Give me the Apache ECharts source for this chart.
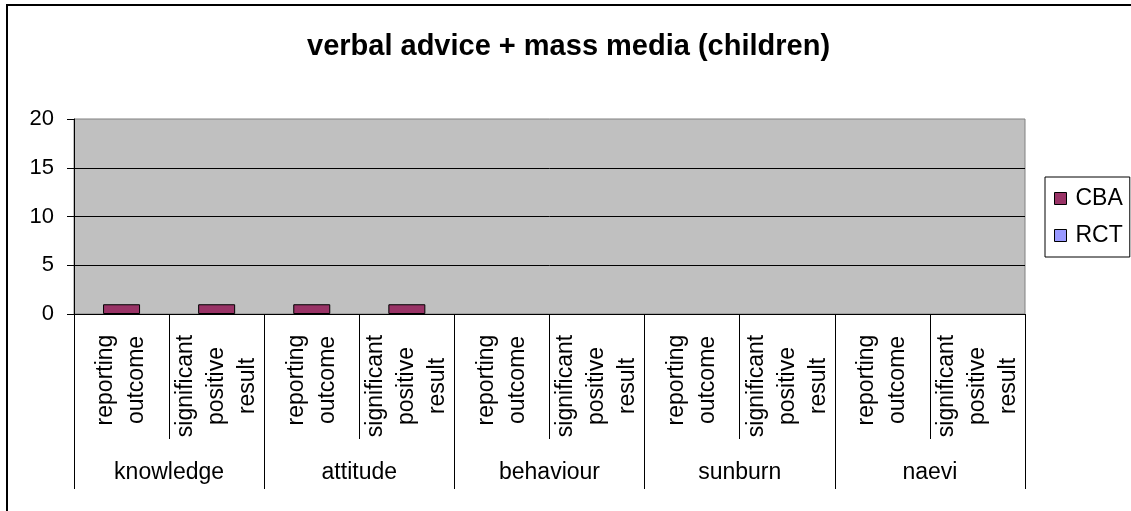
<!DOCTYPE html>
<html>
<head>
<meta charset="utf-8">
<script src="https://cdn.jsdelivr.net/npm/echarts@6/dist/echarts.min.js"></script>
<style>
  html, body { margin: 0; padding: 0; background: #fff; }
  #chart { width: 1131px; height: 511px; }
</style>
</head>
<body>
<div id="chart"></div>
<script>
// Chart data
const titleText = 'verbal advice + mass media (children)';
const groups = ['knowledge', 'attitude', 'behaviour', 'sunburn', 'naevi'];
const subLabels = [
  'reporting\noutcome', 'significant\npositive\nresult',
  'reporting\noutcome', 'significant\npositive\nresult',
  'reporting\noutcome', 'significant\npositive\nresult',
  'reporting\noutcome', 'significant\npositive\nresult',
  'reporting\noutcome', 'significant\npositive\nresult'
];
const seriesNames = ['CBA', 'RCT'];
const cbaValues = [1, 1, 1, 1, 0, 0, 0, 0, 0, 0];
const rctValues = [0, 0, 0, 0, 0, 0, 0, 0, 0, 0];
const yMin = 0, yMax = 20, yStep = 5;

const FONT = '"Liberation Sans", Arial, sans-serif';
const chart = echarts.init(document.getElementById('chart'), null, { renderer: 'canvas' });

const labelBase = {
  fontFamily: FONT, fontSize: 23, color: '#000', lineHeight: 31,
  rotate: 90, align: 'center'
};

// zero-height bars get no outline so they leave no mark on the axis
const barData = (values) => values.map((v) =>
  v === 0 ? { value: v, itemStyle: { borderWidth: 0 } } : v);

chart.setOption({
  backgroundColor: '#fff',
  animation: false,
  title: {
    text: titleText,
    left: 307, top: 32, padding: 0,
    textStyle: { fontFamily: FONT, fontSize: 29, fontWeight: 'bold', color: '#000' }
  },
  graphic: [{
    type: 'rect', silent: true,
    shape: { x: 7, y: 5, width: 1200, height: 600 },
    style: { fill: null, stroke: '#000', lineWidth: 2 }
  }],
  legend: {
    orient: 'vertical',
    left: 1045, top: 177,
    padding: [10, 7, 10, 9],
    itemGap: 14,
    itemWidth: 12, itemHeight: 12,
    icon: 'rect',
    borderColor: '#000', borderWidth: 1,
    backgroundColor: '#fff',
    itemStyle: { borderColor: '#000', borderWidth: 1 },
    textStyle: { fontFamily: FONT, fontSize: 23, color: '#000', padding: [0, 0, 0, 4] },
    data: seriesNames
  },
  grid: {
    left: 74, right: 106, top: 119, bottom: 197,
    show: true, backgroundColor: '#C0C0C0', borderColor: '#808080', borderWidth: 1
  },
  xAxis: [
    {
      type: 'category', position: 'bottom', data: subLabels,
      axisLine: { show: true, lineStyle: { color: '#000', width: 1 } },
      axisTick: { show: true, interval: 0, length: 125, lineStyle: { color: '#000', width: 1 } },
      axisLabel: Object.assign({}, labelBase, {
        interval: (i) => i % 2 === 0, margin: 66
      })
    },
    {
      type: 'category', position: 'bottom', data: subLabels,
      axisLine: { show: false }, axisTick: { show: false },
      axisLabel: Object.assign({}, labelBase, {
        interval: (i) => i % 2 === 1, margin: 72
      })
    },
    {
      type: 'category', position: 'bottom', data: groups,
      axisLine: { show: false },
      axisTick: { show: true, interval: 0, length: 175, lineStyle: { color: '#000', width: 1 } },
      axisLabel: { interval: 0, margin: 147, fontFamily: FONT, fontSize: 23, color: '#000' }
    }
  ],
  yAxis: {
    type: 'value', min: yMin, max: yMax, interval: yStep,
    axisLine: { show: true, lineStyle: { color: '#000' } },
    axisTick: { show: true, length: 7, lineStyle: { color: '#000' } },
    axisLabel: { margin: 20, fontFamily: FONT, fontSize: 22, color: '#000' },
    splitLine: { show: true, showMaxLine: false, lineStyle: { color: '#000', width: 1 } }
  },
  series: [
    {
      name: seriesNames[0], type: 'bar', xAxisIndex: 0, data: barData(cbaValues),
      barWidth: 37, barGap: '-100%',
      itemStyle: { color: '#993366', borderColor: '#000', borderWidth: 1 }
    },
    {
      name: seriesNames[1], type: 'bar', xAxisIndex: 0, data: barData(rctValues),
      barWidth: 37, barGap: '-100%',
      itemStyle: { color: '#9999FF', borderColor: '#000', borderWidth: 0 }
    }
  ]
});
</script>
</body>
</html>
